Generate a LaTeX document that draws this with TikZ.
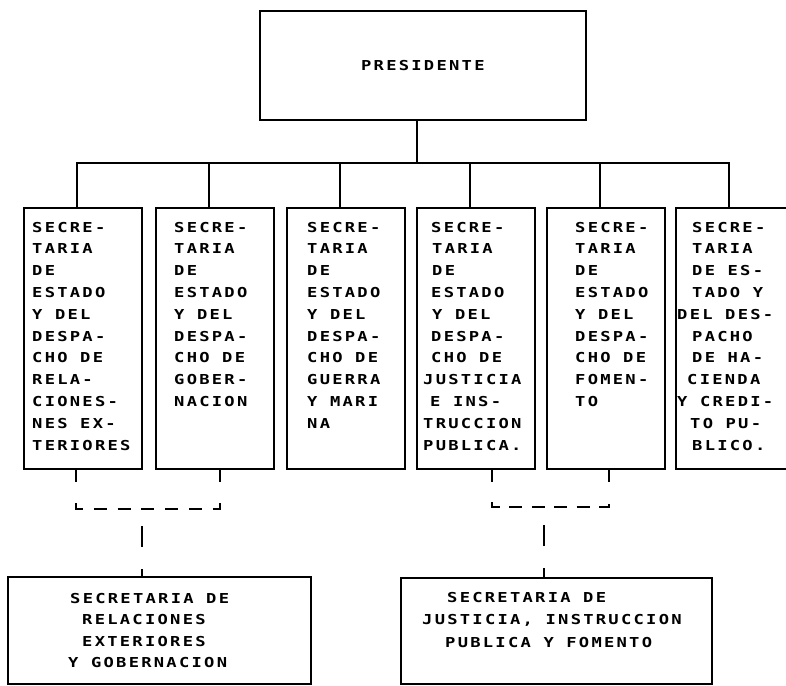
\documentclass[tikz,border=0pt]{standalone}
\usepackage{fontspec}
\newfontfamily\dotfont[FakeStretch=1.25,LetterSpace=16.5]{DejaVu Sans Mono}
\begin{document}
\begin{tikzpicture}[x=1pt,y=-1pt,
  box/.style={draw, line width=1.7pt, rectangle, inner sep=0pt, anchor=north west},
  secbox/.style={box, minimum width=118pt, minimum height=261pt},
  txt/.style={anchor=base west, align=left, inner sep=0pt, font=\dotfont\bfseries\fontsize{13.7}{21.8}\selectfont},
  ln/.style={line width=1.7pt},
  dash1/.style={ln, dash pattern=on 13pt off 10.83pt},
  dash2/.style={ln, dash pattern=on 13pt off 9.4pt}]
\useasboundingbox (0,0) rectangle (786,685);

% president
\node[box, minimum width=326pt, minimum height=109pt, font=\dotfont\bfseries\fontsize{13.7}{21.8}\selectfont] (pres) at (259,10) {PRESIDENTE};

% secretarias
\node[secbox] (s1) at (23,207) {};
\node[secbox] (s2) at (155,207) {};
\node[secbox] (s3) at (286,207) {};
\node[secbox] (s4) at (416,207) {};
\node[secbox] (s5) at (546,207) {};
\node[secbox] (s6) at (675,207) {};

% texts: anchor is the baseline of the last line
\node[txt] (s1t) at (32,450) {SECRE-\\TARIA\\DE\\ESTADO\\Y DEL\\DESPA-\\CHO DE\\RELA-\\CIONES-\\NES EX-\\TERIORES};
\node[txt] (s2t) at (174,406.4) {SECRE-\\TARIA\\DE\\ESTADO\\Y DEL\\DESPA-\\CHO DE\\GOBER-\\NACION};
\node[txt] (s3t) at (307,428.2) {SECRE-\\TARIA\\DE\\ESTADO\\Y DEL\\DESPA-\\CHO DE\\GUERRA\\Y MARI\\NA};
\node[txt] (s4t) at (423,450) {\hspace*{8pt}SECRE-\\\hspace*{9pt}TARIA\\\hspace*{9pt}DE\\\hspace*{8pt}ESTADO\\\hspace*{9pt}Y DEL\\\hspace*{8pt}DESPA-\\\hspace*{8pt}CHO DE\\JUSTICIA\\\hspace*{7pt}E INS-\\TRUCCION\\PUBLICA.};
\node[txt] (s5t) at (575,406.4) {SECRE-\\TARIA\\DE\\ESTADO\\Y DEL\\DESPA-\\CHO DE\\FOMEN-\\TO};
\node[txt] (s6t) at (677,450) {\hspace*{15pt}SECRE-\\\hspace*{15pt}TARIA\\\hspace*{15pt}DE ES-\\\hspace*{15pt}TADO Y\\DEL DES-\\\hspace*{15pt}PACHO\\\hspace*{15pt}DE HA-\\\hspace*{10pt}CIENDA\\Y CREDI-\\\hspace*{13pt}TO PU-\\\hspace*{15pt}BLICO.};

% bottom boxes
\node[box, minimum width=303pt, minimum height=107pt] (bl) at (7,576) {};
\node[box, minimum width=311pt, minimum height=106pt] (br) at (400,577) {};
\node[txt, font=\dotfont\bfseries\fontsize{13.7}{21.5}\selectfont] (blt) at (68,667.5) {\hspace*{2pt}SECRETARIA DE\\\hspace*{14pt}RELACIONES\\\hspace*{14pt}EXTERIORES\\Y GOBERNACION};
\node[txt, font=\dotfont\bfseries\fontsize{13.7}{22.5}\selectfont] (brt) at (422,647) {\hspace*{25pt}SECRETARIA DE\\JUSTICIA, INSTRUCCION\\\hspace*{23pt}PUBLICA Y FOMENTO};

% top connectors
\coordinate (bus) at (416,163);
\draw[ln] ([xshift=-6pt]pres.south) -- ([xshift=-6pt]pres.south |- bus);
\draw[ln] ([xshift=-6pt]s1.north) |- ([xshift=-6pt]s6.north |- bus) -- ([xshift=-6pt]s6.north);
\foreach \i in {2,3,4,5}
  \draw[ln] ([xshift=-6pt]s\i.north) -- ([xshift=-6pt]s\i.north |- bus);

% lower left dashed link
\coordinate (a1) at (76,482);
\coordinate (a2) at (220,482);
\coordinate (c1) at (76,503);
\coordinate (c2) at (76,509);
\coordinate (c3) at (220,509);
\coordinate (c4) at (220,503);
\coordinate (m1) at (142,509);
\draw[ln] (s1.south -| a1) -- (a1);
\draw[ln] (s2.south -| a2) -- (a2);
\draw[dash1] (c1) -- (c2) -- (c3) -- (c4);
\draw[ln, dash pattern=on 7pt off 22pt on 21pt off 30pt] (bl.north -| m1) -- (m1);

% lower right dashed link
\coordinate (a4) at (492,482);
\coordinate (a5) at (609,482);
\coordinate (d1) at (492,502);
\coordinate (d2) at (492,507);
\coordinate (d3) at (609,507);
\coordinate (d4) at (609,502);
\coordinate (m2) at (544,507);
\draw[ln] (s4.south -| a4) -- (a4);
\draw[ln] (s5.south -| a5) -- (a5);
\draw[dash2] (d1) -- (d2) -- (d3) -- (d4);
\draw[ln, dash pattern=on 9pt off 22pt on 21pt off 30pt] (br.north -| m2) -- (m2);
\end{tikzpicture}
\end{document}
